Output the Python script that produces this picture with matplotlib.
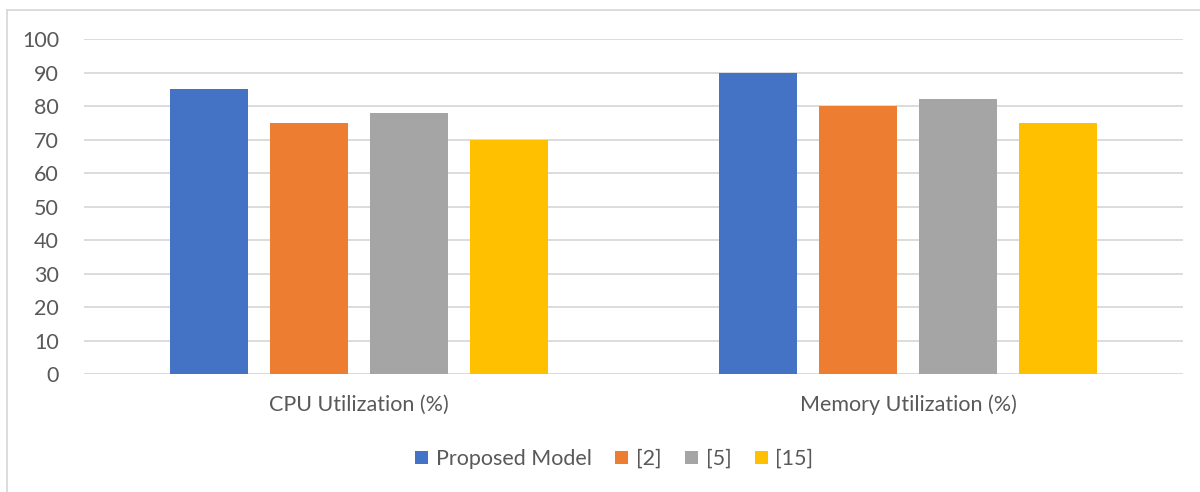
import numpy as np
import matplotlib.pyplot as plt
from matplotlib.lines import Line2D

categories = ["CPU Utilization (%)", "Memory Utilization (%)"]
series_names = ["Proposed Model", "[2]", "[5]", "[15]"]
proposed = [85, 90]
ref2 = [75, 80]
ref5 = [78, 82]
ref15 = [70, 75]
colors = ["#4472C4", "#ED7D31", "#A5A5A5", "#FFC000"]
yticks = list(range(0, 101, 10))

plt.rcParams["font.family"] = ["Lato", "DejaVu Sans"]
text_color = "#595959"

fig = plt.figure(figsize=(12, 4.92), dpi=100)
ax = fig.add_axes([0.07, 0.2398, 0.916, 0.6809])

x = np.arange(len(categories))
step = 0.182
width = 0.142
for i, (name, vals) in enumerate(zip(series_names, [proposed, ref2, ref5, ref15])):
    ax.bar(x + (i - 1.5) * step, vals, width, color=colors[i], label=name, zorder=3)

ax.set_xlim(-0.5, 1.5)
ax.set_ylim(0, 100)
ax.set_yticks(yticks)
ax.set_xticks(x)
ax.set_xticklabels(categories)
ax.grid(axis="y", color="#D9D9D9", linewidth=1.3, zorder=0)
for s in ax.spines.values():
    s.set_visible(False)
ax.tick_params(axis="both", length=0, colors=text_color, labelsize=15.5)
ax.tick_params(axis="y", pad=18)
ax.tick_params(axis="x", pad=15)

leg = fig.legend(loc="center", bbox_to_anchor=(0.512, 0.067), ncol=4, frameon=False,
                 fontsize=15.5, handlelength=0.6, handleheight=0.6, handletextpad=0.35,
                 columnspacing=1.1)
for t in leg.get_texts():
    t.set_color(text_color)

# outer chart frame (top and left edges visible)
fig.add_artist(Line2D([0.006, 1.0], [0.98, 0.98], color="#D9D9D9", linewidth=1.3))
fig.add_artist(Line2D([0.006, 0.006], [0.0, 0.98], color="#D9D9D9", linewidth=1.3))

fig.savefig("out.png", dpi=100)
